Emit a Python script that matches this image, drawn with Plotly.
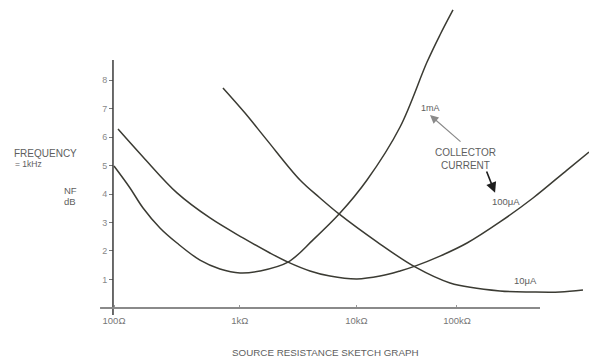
import plotly.graph_objects as go

# Sketch positions along the source-resistance axis (decades of ohms) and noise figure (dB)
log_r_1ma = [2.000, 2.140, 2.254, 2.402, 2.551, 2.752, 2.927, 3.102, 3.277, 3.522,
             3.741, 3.977, 4.213, 4.502, 4.738, 4.851, 4.965]
nf_1ma = [4.98, 4.21, 3.51, 2.81, 2.28, 1.68, 1.37, 1.23, 1.30, 1.61,
          2.39, 3.33, 4.49, 6.35, 8.63, 9.58, 10.46]

log_r_100ua = [2.035, 2.254, 2.551, 2.840, 3.128, 3.364, 3.522, 3.714, 3.889, 4.125,
               4.327, 4.502, 4.633, 4.851, 5.088, 5.376, 5.665, 5.962, 6.155]
nf_100ua = [6.28, 5.30, 4.04, 3.16, 2.46, 1.93, 1.61, 1.30, 1.12, 1.02,
            1.12, 1.30, 1.47, 1.82, 2.28, 3.02, 3.86, 4.84, 5.47]

log_r_10ua = [2.953, 3.146, 3.338, 3.627, 3.802, 3.968, 4.300, 4.633, 4.939, 5.376,
              5.665, 5.901, 6.102]
nf_10ua = [7.72, 6.84, 5.89, 4.49, 3.86, 3.30, 2.32, 1.44, 0.88, 0.60,
           0.56, 0.56, 0.63]

x_tick_pos = [2.0, 3.10, 4.12, 5.0]
x_tick_text = ["100Ω", "1kΩ", "10kΩ", "100kΩ"]
y_tick_vals = [1, 2, 3, 4, 5, 6, 7, 8]

W, H = 589, 362
X_RANGE = [1.0029, 6.1546]
Y_RANGE = [-1.895, 10.807]

LINE = "#3b3b33"
TEXT = "#5e5e5e"
FONT = "Liberation Sans, Arial, sans-serif"

fig = go.Figure()
for xs, ys in [(log_r_1ma, nf_1ma), (log_r_100ua, nf_100ua), (log_r_10ua, nf_10ua)]:
    fig.add_trace(go.Scatter(
        x=xs, y=ys, mode="lines",
        line=dict(color=LINE, width=1.5, shape="spline", smoothing=1.0),
        showlegend=False, hoverinfo="skip"))

# hand-drawn axis lines
fig.add_shape(type="line", xref="x", yref="y", x0=1.991, x1=1.991, y0=-0.25, y1=8.70,
              line=dict(color="#3a3a3a", width=1.5))
fig.add_shape(type="line", xref="x", yref="y", x0=1.878, x1=5.726, y0=0, y1=0,
              line=dict(color="#8a8a8a", width=2))

ann = []
def label(x, y, text, size=8, color=TEXT, xanchor="center", xref="x", yref="y"):
    ann.append(dict(x=x, y=y, xref=xref, yref=yref, text=text, showarrow=False,
                    xanchor=xanchor, yanchor="middle",
                    font=dict(family=FONT, size=size, color=color)))

label(4.764, 7.02, "1mA", size=9)
label(5.07, 5.22, "COLLECTOR<br>CURRENT", size=10)
label(5.43, 3.75, "100μA", size=9.5)
label(5.60, 0.98, "10μA", size=9.5)

# collector-current pointers
ann.append(dict(x=4.764, y=6.77, ax=5.044, ay=5.79, xref="x", yref="y", axref="x", ayref="y",
                text="", showarrow=True, arrowhead=2, arrowsize=1.4, arrowwidth=1.2,
                arrowcolor="#8a8a8a"))
ann.append(dict(x=5.333, y=4.04, ax=5.254, ay=4.84, xref="x", yref="y", axref="x", ayref="y",
                text="", showarrow=True, arrowhead=2, arrowsize=1.3, arrowwidth=1.6,
                arrowcolor="#1e1e1e"))

# axis captions
label(12 / W, 1 - 153 / H, "FREQUENCY", size=10, xanchor="left", xref="paper", yref="paper")
label(13 / W, 1 - 164 / H, "= 1kHz", size=8.5, xanchor="left", xref="paper", yref="paper")
label(70 / W, 1 - 190 / H, "NF", size=9.5, xref="paper", yref="paper")
label(70 / W, 1 - 201 / H, "dB", size=9.5, xref="paper", yref="paper")
label(325 / W, 1 - 352 / H, "SOURCE RESISTANCE SKETCH GRAPH", size=9.8,
      xref="paper", yref="paper")

fig.update_layout(
    width=W, height=H,
    margin=dict(l=0, r=0, t=0, b=0),
    paper_bgcolor="white", plot_bgcolor="white",
    annotations=ann,
    xaxis=dict(range=X_RANGE, domain=[0, 1], anchor="free", position=54 / H,
               showline=False, showgrid=False, zeroline=False,
               tickmode="array", tickvals=x_tick_pos, ticktext=x_tick_text,
               ticks="inside", ticklen=3, tickcolor="#999999", ticklabelstandoff=5,
               tickfont=dict(family=FONT, size=9.5, color="#777777")),
    yaxis=dict(range=Y_RANGE, domain=[0, 1], anchor="free", position=113 / W,
               showline=False, showgrid=False, zeroline=False,
               tickmode="array", tickvals=y_tick_vals,
               ticks="outside", ticklen=4, tickcolor="#777777",
               tickfont=dict(family=FONT, size=9, color="#888888")),
)

fig.write_html("out.html")
